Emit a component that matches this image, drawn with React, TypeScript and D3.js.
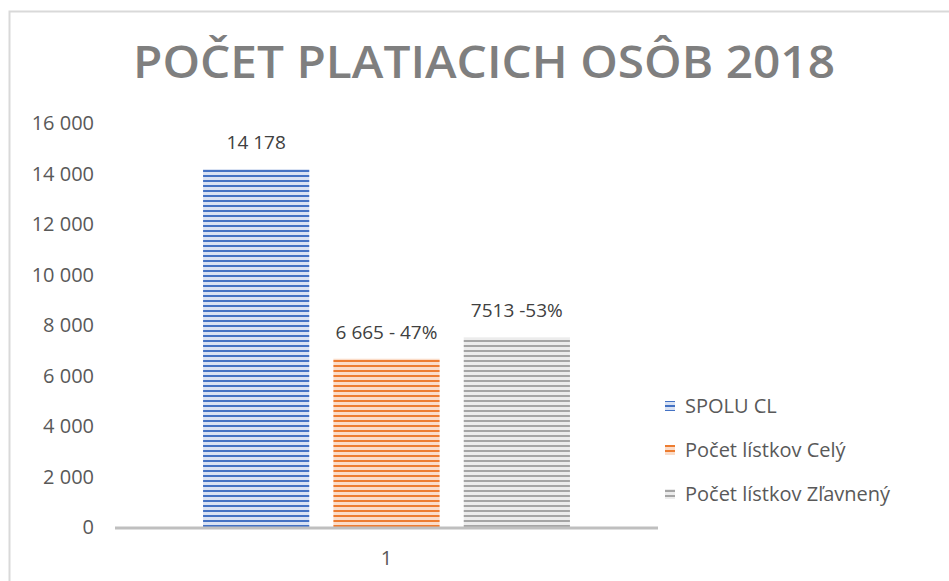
import React, { useEffect, useRef } from 'react';
import * as d3 from 'd3';

const categories = ['1'];
const seriesNames = ['SPOLU CL', 'Počet lístkov Celý', 'Počet lístkov Zľavnený'];
const seriesValues = [14178, 6665, 7513];
const dataLabels = ['14 178', '6 665 - 47%', '7513 -53%'];
const yTicks = [0, 2000, 4000, 6000, 8000, 10000, 12000, 14000, 16000];

const colors = ['#4472c4', '#ed7d31', '#a5a5a5'];
const lightColors = ['#d9e2f3', '#fbdcc8', '#ececec'];

const App = () => {
  const ref = useRef<SVGSVGElement>(null);

  useEffect(() => {
    const width = 949;
    const height = 581;
    const svg = d3.select(ref.current);
    svg.selectAll('*').remove();
    svg.attr('width', width).attr('height', height);

    const font = "'Open Sans', sans-serif";
    const textColor = '#595959';

    // striped fills
    const defs = svg.append('defs');
    colors.forEach((c, i) => {
      const p = defs.append('pattern')
        .attr('id', 'stripe' + i)
        .attr('patternUnits', 'userSpaceOnUse')
        .attr('width', 8)
        .attr('height', 5);
      p.append('rect').attr('width', 8).attr('height', 5).attr('fill', lightColors[i]);
      p.append('rect').attr('width', 8).attr('height', 2).attr('fill', c);
    });

    svg.append('rect')
      .attr('width', width).attr('height', height).attr('fill', '#fff');

    // chart frame
    svg.append('rect')
      .attr('x', 9.5).attr('y', 11.5)
      .attr('width', 960).attr('height', 600)
      .attr('fill', 'none')
      .attr('stroke', '#d9d9d9')
      .attr('stroke-width', 2);

    svg.append('text')
      .attr('x', 484).attr('y', 78)
      .attr('text-anchor', 'middle')
      .attr('font-family', font)
      .attr('font-weight', 600)
      .attr('font-size', 45)
      .attr('fill', '#7f7f7f')
      .attr('textLength', 702)
      .attr('lengthAdjust', 'spacingAndGlyphs')
      .text('POČET PLATIACICH OSÔB 2018');

    const y = d3.scaleLinear().domain([0, 16000]).range([527, 123]);
    const x0 = d3.scaleBand().domain(categories).range([115, 658]).paddingOuter(0.24);
    const x1 = d3.scaleBand().domain(seriesNames).range([0, x0.bandwidth()]).paddingInner(0.185);

    const fmt = d3.formatLocale({ decimal: ',', thousands: ' ', grouping: [3], currency: ['', ''] }).format(',d');

    // y tick labels
    svg.append('g')
      .selectAll('text')
      .data(yTicks)
      .join('text')
      .attr('x', 94)
      .attr('y', d => y(d))
      .attr('dy', '0.35em')
      .attr('text-anchor', 'end')
      .attr('font-family', font)
      .attr('font-size', 20)
      .attr('fill', textColor)
      .text(d => fmt(d));

    const g = svg.append('g').attr('transform', `translate(${x0(categories[0])},0)`);

    g.selectAll('rect')
      .data(seriesValues)
      .join('rect')
      .attr('x', (d, i) => x1(seriesNames[i]))
      .attr('y', d => y(d))
      .attr('width', x1.bandwidth())
      .attr('height', d => y(0) - y(d))
      .attr('fill', (d, i) => `url(#stripe${i})`);

    g.selectAll('text')
      .data(seriesValues)
      .join('text')
      .attr('x', (d, i) => x1(seriesNames[i]) + x1.bandwidth() / 2)
      .attr('y', d => y(d) - 20)
      .attr('text-anchor', 'middle')
      .attr('font-family', font)
      .attr('font-size', 19)
      .attr('fill', '#404040')
      .text((d, i) => dataLabels[i]);

    // x axis line
    svg.append('line')
      .attr('x1', 115).attr('x2', 658)
      .attr('y1', y(0) + 1).attr('y2', y(0) + 1)
      .attr('stroke', '#bfbfbf')
      .attr('stroke-width', 3);

    svg.append('text')
      .attr('x', x0(categories[0]) + x0.bandwidth() / 2)
      .attr('y', 565)
      .attr('text-anchor', 'middle')
      .attr('font-family', font)
      .attr('font-size', 20)
      .attr('fill', textColor)
      .text(categories[0]);

    // legend
    const legend = svg.append('g');
    seriesNames.forEach((name, i) => {
      const ly = 406 + i * 44;
      legend.append('rect')
        .attr('x', 665).attr('y', ly - 5)
        .attr('width', 10).attr('height', 10)
        .attr('fill', `url(#stripe${i})`);
      legend.append('text')
        .attr('x', 685).attr('y', ly)
        .attr('dy', '0.35em')
        .attr('font-family', font)
        .attr('font-size', 20)
        .attr('fill', textColor)
        .text(name);
    });
  }, []);

  return <svg ref={ref} style={{ position: 'absolute', left: 0, top: 0 }} />;
};

export default App;
